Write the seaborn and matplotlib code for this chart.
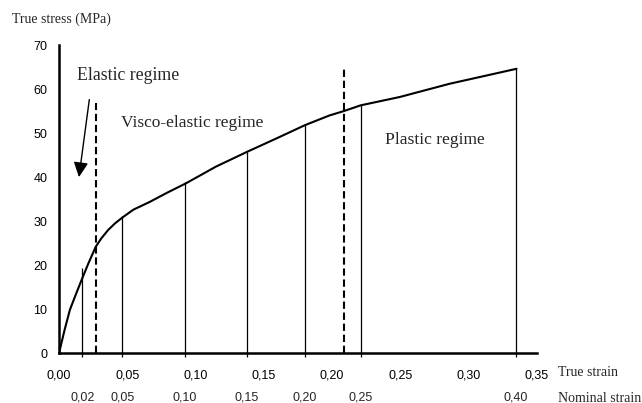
import numpy as np
import matplotlib
matplotlib.use("Agg")
import matplotlib.pyplot as plt
import seaborn as sns
import pandas as pd

# ---- data ----
true_strain = [0, 0.004, 0.008, 0.0125, 0.0166, 0.0215, 0.0269, 0.031, 0.036, 0.041,
               0.0463, 0.0544, 0.0666, 0.0788, 0.0930, 0.1150, 0.1374, 0.160, 0.1801,
               0.198, 0.2086, 0.2209, 0.2496, 0.286, 0.312, 0.335]
true_stress = [0, 5.2, 9.9, 13.5, 16.7, 20.4, 24.2, 26.1, 28.0, 29.5,
               30.8, 32.6, 34.4, 36.4, 38.6, 42.4, 45.7, 48.9, 51.8,
               54.0, 55.0, 56.3, 58.2, 61.2, 63.0, 64.6]

nominal_labels = ["0,02", "0,05", "0,10", "0,15", "0,20", "0,25", "0,40"]
nominal_pos = [0.0171, 0.0463, 0.0922, 0.1374, 0.1801, 0.2209, 0.3346]   # true strain of each nominal marker
nominal_top = [19.3, 31.1, 38.9, 45.7, 51.8, 56.3, 64.8]                 # stress reached by marker line

regime_bounds = [0.0271, 0.2086]
regime_bound_tops = [56.8, 64.5]

x_ticks = [0.00, 0.05, 0.10, 0.15, 0.20, 0.25, 0.30, 0.35]
x_ticklabels = ["0,00", "0,05", "0,10", "0,15", "0,20", "0,25", "0,30", "0,35"]
y_ticks = [0, 10, 20, 30, 40, 50, 60, 70]

df = pd.DataFrame({"strain": true_strain, "stress": true_stress})

# ---- figure ----
sns.set_style("white")
plt.rcParams["font.family"] = ["Liberation Sans", "DejaVu Sans"]

W, H = 642, 403
fig = plt.figure(figsize=(W / 100, H / 100), dpi=100)
x0, x1 = 59, 537
y0, y1 = 353.3, 45
ax = fig.add_axes([x0 / W, 1 - y0 / H, (x1 - x0) / W, (y0 - y1) / H])

sns.lineplot(data=df, x="strain", y="stress", ax=ax, color="black", lw=1.5, sort=False)

ax.set_xlim(0, 0.35)
ax.set_ylim(0, 70)
ax.set_xlabel("")
ax.set_ylabel("")

for s in ["top", "right"]:
    ax.spines[s].set_visible(False)
for s in ["left", "bottom"]:
    ax.spines[s].set_linewidth(1.8)
    ax.spines[s].set_color("black")

ax.set_xticks(x_ticks)
ax.set_xticklabels(x_ticklabels, fontsize=9)
ax.set_yticks(y_ticks)
ax.set_yticklabels([str(v) for v in y_ticks], fontsize=9)
ax.tick_params(axis="both", direction="inout", length=7, width=1.5, colors="black")
ax.tick_params(axis="x", pad=8)
ax.tick_params(axis="y", pad=5)
xt = ax.xaxis.get_major_ticks()
xt[0].tick1line.set_visible(False)
xt[-1].tick1line.set_visible(False)

def ypx_to_axes(py):
    return (y0 - py) / (y0 - y1)

# nominal strain marker lines
ax.vlines(nominal_pos, -0.79, nominal_top, colors="black", lw=0.9, clip_on=False)
trans = ax.get_xaxis_transform()
for p, lab in zip(nominal_pos, nominal_labels):
    ax.text(p, ypx_to_axes(397), lab, transform=trans, ha="center", va="center", fontsize=9)

# regime boundaries
for b, t in zip(regime_bounds, regime_bound_tops):
    ax.plot([b, b], [0, t], color="black", lw=1.5, ls=(0, (3.5, 1.8)), clip_on=False)

# arrow
ax.annotate("", xy=(0.0146, 40.0), xytext=(0.0222, 57.6),
            arrowprops=dict(arrowstyle="-|>,head_length=0.45,head_width=0.22",
                            mutation_scale=20, lw=1.0, color="black", shrinkA=0, shrinkB=0))

serif = ["Liberation Serif", "DejaVu Serif"]
def ftext(px, py, s, size, ha="left"):
    fig.text(px / W, 1 - py / H, s, fontsize=size, family=serif, ha=ha, va="center")

ftext(12, 19.5, "True stress (MPa)", 10)
ftext(77, 76, "Elastic regime", 12.8)
ftext(121, 123, "Visco-elastic regime", 12.5)
ftext(385, 140, "Plastic regime", 12.6)
ftext(558, 373, "True strain", 10)
ftext(558, 398, "Nominal strain", 10)

fig.savefig("out.png", dpi=100)
